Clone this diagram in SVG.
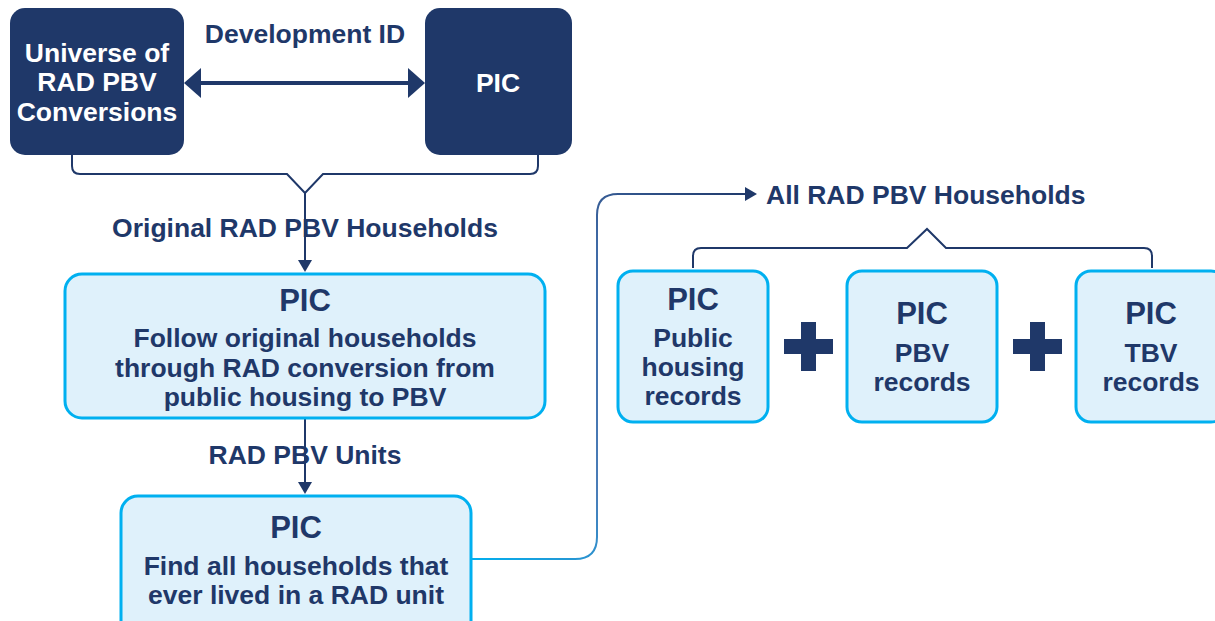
<svg xmlns="http://www.w3.org/2000/svg" width="1215" height="621" viewBox="0 0 1215 621">
<defs>
<style>
.dark{fill:#1F3869;}
.light{fill:#DFF1FB;stroke:#00B0F0;stroke-width:3;}
.t{font-family:"Liberation Sans",Arial,sans-serif;font-weight:bold;font-size:26.5px;fill:#1F3869;text-anchor:middle;}
.w{fill:#FFFFFF;}
.h{font-size:31px;}
.ln{fill:none;stroke:#1F3869;stroke-width:2;}
</style>
<marker id="big" markerUnits="userSpaceOnUse" markerWidth="17" markerHeight="30" refX="0" refY="15" orient="auto-start-reverse" viewBox="0 0 17 30">
<path d="M0,0 L17,15 L0,30 z" fill="#1F3869"/>
</marker>
<marker id="sm" markerUnits="userSpaceOnUse" markerWidth="12" markerHeight="14" refX="0" refY="7" orient="auto" viewBox="0 0 12 14">
<path d="M0,0 L12,7 L0,14 z" fill="#1F3869"/>
</marker>
<linearGradient id="g" gradientUnits="userSpaceOnUse" x1="471" y1="560" x2="757" y2="194">
<stop offset="0" stop-color="#00B0F0"/>
<stop offset="0.28" stop-color="#4A7DB8"/>
<stop offset="0.7" stop-color="#3F6AA6"/>
<stop offset="1" stop-color="#1F3869"/>
</linearGradient>
</defs>
<rect width="1215" height="621" fill="#FFFFFF"/>

<g id="connectors">
<line x1="201" y1="83" x2="408" y2="83" stroke="#1F3869" stroke-width="4" marker-start="url(#big)" marker-end="url(#big)"/>
<path class="ln" d="M72,155 V166 Q72,174 80,174 H287 L305,193 L323,174 H530 Q538,174 538,166 V155"/>
<line class="ln" x1="305" y1="193" x2="305" y2="260" marker-end="url(#sm)"/>
<line class="ln" x1="305" y1="419" x2="305" y2="482" marker-end="url(#sm)"/>
<path d="M471,559 H575 Q597,559 597,537 V215 Q597,194 618,194 H745" fill="none" stroke="url(#g)" stroke-width="2" marker-end="url(#sm)"/>
<path class="ln" d="M693,268 V256 Q693,248 701,248 H907 L927,229 L946,248 H1144 Q1152,248 1152,256 V268"/>
</g>

<g id="labels">
<text class="t" x="305" y="43">Development ID</text>
<text class="t" x="305" y="237">Original RAD PBV Households</text>
<text class="t" x="305" y="464">RAD PBV Units</text>
<text class="t" x="766" y="204" style="text-anchor:start">All RAD PBV Households</text>
</g>

<g id="universe">
<rect class="dark" x="10" y="8" width="174" height="147" rx="15"/>
<text class="t w" x="97" y="62">Universe of</text>
<text class="t w" x="97" y="91">RAD PBV</text>
<text class="t w" x="97" y="121">Conversions</text>
</g>

<g id="pic-top">
<rect class="dark" x="425" y="8" width="147" height="147" rx="15"/>
<text class="t w" x="498" y="92">PIC</text>
</g>

<g id="pic-follow">
<rect class="light" x="65" y="274" width="480" height="144" rx="17"/>
<text class="t h" x="305" y="311">PIC</text>
<text class="t" x="305" y="347">Follow original households</text>
<text class="t" x="305" y="377">through RAD conversion from</text>
<text class="t" x="305" y="406">public housing to PBV</text>
</g>

<g id="pic-find">
<rect class="light" x="121" y="496" width="350" height="150" rx="17"/>
<text class="t h" x="296" y="538">PIC</text>
<text class="t" x="296" y="575">Find all households that</text>
<text class="t" x="296" y="604">ever lived in a RAD unit</text>
</g>

<g id="pic-public">
<rect class="light" x="618" y="271" width="150" height="151" rx="15"/>
<text class="t h" x="693" y="310">PIC</text>
<text class="t" x="693" y="347">Public</text>
<text class="t" x="693" y="376">housing</text>
<text class="t" x="693" y="405">records</text>
</g>

<g id="plus1">
<path class="dark" d="M801,322 H816 V339 H833 V354 H816 V371 H801 V354 H784 V339 H801 z"/>
</g>

<g id="pic-pbv">
<rect class="light" x="847" y="271" width="150" height="151" rx="15"/>
<text class="t h" x="922" y="324">PIC</text>
<text class="t" x="922" y="362">PBV</text>
<text class="t" x="922" y="391">records</text>
</g>

<g id="plus2">
<path class="dark" d="M1030,322 H1045 V339 H1062 V354 H1045 V371 H1030 V354 H1013 V339 H1030 z"/>
</g>

<g id="pic-tbv">
<rect class="light" x="1076" y="271" width="150" height="151" rx="15"/>
<text class="t h" x="1151" y="324">PIC</text>
<text class="t" x="1151" y="362">TBV</text>
<text class="t" x="1151" y="391">records</text>
</g>
</svg>
